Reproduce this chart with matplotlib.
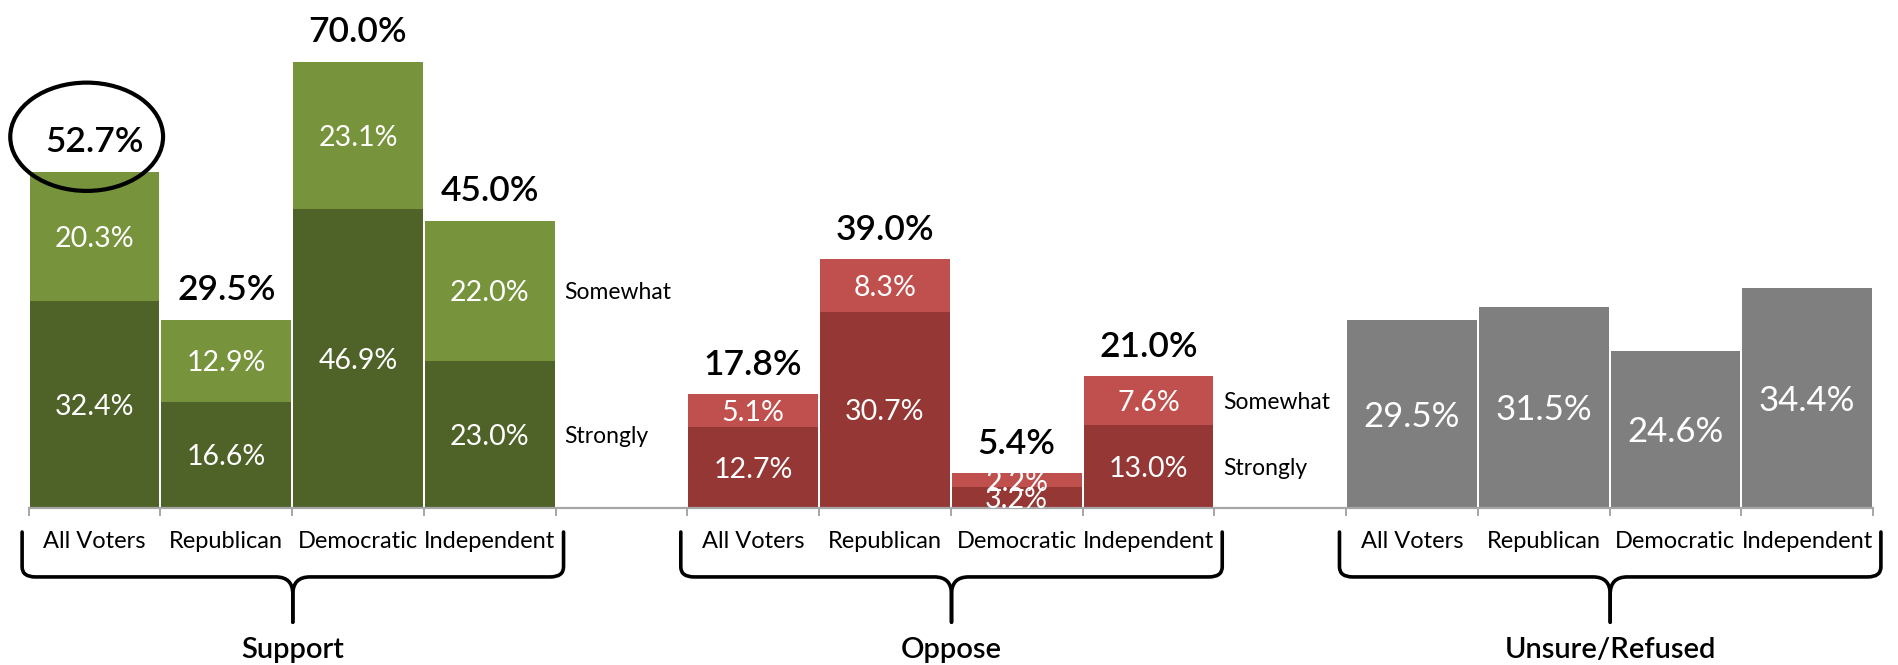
import numpy as np
import matplotlib.pyplot as plt
from matplotlib.patches import Ellipse, PathPatch
from matplotlib.path import Path

plt.rcParams['font.family'] = ['Lato', 'DejaVu Sans']

# dati del sondaggio (%)
gruppi = ["Support", "Oppose", "Unsure/Refused"]
categorie = ["All Voters", "Republican", "Democratic", "Independent"]

support_strongly = [32.4, 16.6, 46.9, 23.0]
support_somewhat = [20.3, 12.9, 23.1, 22.0]
support_totale = [52.7, 29.5, 70.0, 45.0]

oppose_strongly = [12.7, 30.7, 3.2, 13.0]
oppose_somewhat = [5.1, 8.3, 2.2, 7.6]
oppose_totale = [17.8, 39.0, 5.4, 21.0]

unsure = [29.5, 31.5, 24.6, 34.4]

# colori
verde_scuro, verde_chiaro = "#4F6228", "#77933C"
rosso_scuro, rosso_chiaro = "#953735", "#C0504D"
grigio = "#7F7F7F"

W, H = 1898, 665
fig = plt.figure(figsize=(W / 100, H / 100), dpi=100)
ax = fig.add_axes([28.7 / W, (H - 507.5) / H, 1844.3 / W, 503.5 / H])
ax.set_xlim(-0.5, 13.5)
ax.set_ylim(0, 503.5 / 6.37)

n = len(categorie)
larghezza = 0.985


def posizioni(g):
    return np.arange(n) + g * (n + 1)


def etichette_segmenti(x, basi, valori, size):
    for xi, b, v in zip(x, basi, valori):
        ax.text(xi, b + v / 2, f"{v:.1f}%", ha="center", va="center_baseline",
                color="white", fontsize=size)


def etichette_totali(x, cime, totali):
    for xi, c, t in zip(x, cime, totali):
        ax.annotate(f"{t:.1f}%", (xi, c), xytext=(0, 14), textcoords="offset points",
                    ha="center", va="baseline", fontsize=25.5, weight="semibold")


def etichette_laterali(x, strongly, somewhat):
    ax.annotate("Somewhat", (x + larghezza / 2, strongly + somewhat / 2), xytext=(7, 0),
                textcoords="offset points", ha="left", va="center_baseline", fontsize=16.5)
    ax.annotate("Strongly", (x + larghezza / 2, strongly / 2), xytext=(7, 0),
                textcoords="offset points", ha="left", va="center_baseline", fontsize=16.5)


# Support
x_s = posizioni(0)
ax.bar(x_s, support_strongly, larghezza, color=verde_scuro)
ax.bar(x_s, support_somewhat, larghezza, bottom=support_strongly, color=verde_chiaro)
etichette_segmenti(x_s, np.zeros(n), support_strongly, 20.5)
etichette_segmenti(x_s, support_strongly, support_somewhat, 20.5)
cime_s = np.add(support_strongly, support_somewhat)
etichette_totali(x_s, cime_s, support_totale)
etichette_laterali(x_s[-1], support_strongly[-1], support_somewhat[-1])

# Oppose
x_o = posizioni(1)
ax.bar(x_o, oppose_strongly, larghezza, color=rosso_scuro)
ax.bar(x_o, oppose_somewhat, larghezza, bottom=oppose_strongly, color=rosso_chiaro)
etichette_segmenti(x_o, np.zeros(n), oppose_strongly, 20.5)
etichette_segmenti(x_o, oppose_strongly, oppose_somewhat, 20.5)
cime_o = np.add(oppose_strongly, oppose_somewhat)
etichette_totali(x_o, cime_o, oppose_totale)
etichette_laterali(x_o[-1], oppose_strongly[-1], oppose_somewhat[-1])

# Unsure/Refused
x_u = posizioni(2)
ax.bar(x_u, unsure, larghezza, color=grigio)
etichette_segmenti(x_u, np.zeros(n), unsure, 25)

# cerchio attorno al dato principale
ax.add_patch(Ellipse((x_s[0] - 0.06, support_totale[0] + 5.5), 1.16, 17,
                     fill=False, edgecolor="black", linewidth=3, clip_on=False))

# asse x: tacche solo ai bordi delle barre, etichette al centro
for lato in ["top", "right", "left"]:
    ax.spines[lato].set_visible(False)
ax.spines["bottom"].set_color("#A6A6A6")
ax.spines["bottom"].set_linewidth(1.6)
ax.set_yticks([])

bordi = np.concatenate([np.arange(n + 1) - 0.5 + g * (n + 1) for g in range(3)])
ax.set_xticks(bordi)
ax.set_xticklabels([])
ax.tick_params(axis="x", which="major", length=6, width=1.4, color="#A6A6A6")

centri = np.concatenate([posizioni(g) for g in range(3)])
ax.set_xticks(centri, minor=True)
ax.set_xticklabels(categorie * 3, minor=True, fontsize=17)
ax.tick_params(axis="x", which="minor", length=0, pad=17)

# parentesi graffe sotto ogni gruppo
y_alto, y_oriz, y_punta = -3.85, -10.9, -18.0
rx, ry = 0.1, 1.6
cx, cy = 0.13, 2.7
for g, nome in enumerate(gruppi):
    x0 = g * (n + 1) - 0.5 - 0.05
    x1 = g * (n + 1) + n - 0.5 + 0.06
    xc = (x0 + x1) / 2
    for a, s in [(x0, 1), (x1, -1)]:
        verts = [(a, y_alto), (a, y_oriz + ry), (a, y_oriz), (a + s * rx, y_oriz),
                 (xc - s * cx, y_oriz), (xc, y_oriz), (xc, y_oriz - cy), (xc, y_punta)]
        codes = [Path.MOVETO, Path.LINETO, Path.CURVE3, Path.CURVE3,
                 Path.LINETO, Path.CURVE3, Path.CURVE3, Path.LINETO]
        ax.add_patch(PathPatch(Path(verts, codes), fill=False, edgecolor="black",
                               linewidth=2.6, capstyle="round", joinstyle="round",
                               clip_on=False))
    ax.text(xc, -22.0, nome, ha="center", va="center_baseline", fontsize=21,
            weight="semibold")

fig.savefig("out.png", dpi=100)
